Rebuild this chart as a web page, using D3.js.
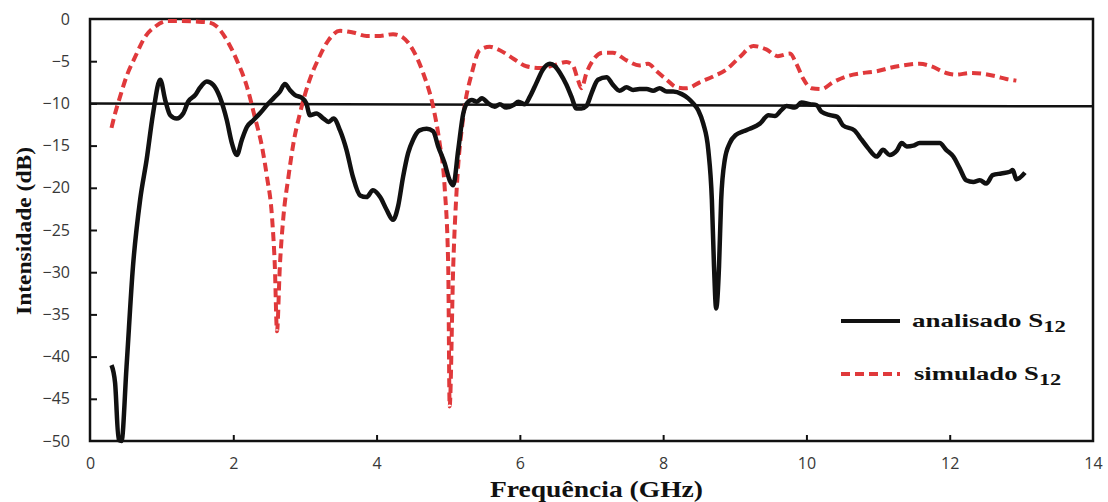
<!DOCTYPE html>
<html lang="en">
<head>
<meta charset="UTF-8">
<script src="https://d3js.org/d3.v7.min.js"></script>
<title>S12</title>
<style>
  body { margin: 0; background: #fff; }
</style>
</head>
<body>
<div id="chart"></div>
<script>
// frequency (GHz) / intensity (dB)
const measFreq = [0.30,0.35,0.40,0.44,0.51,0.60,0.70,0.79,0.88,0.98,1.05,1.12,1.21,1.30,1.37,1.47,1.53,1.63,1.72,1.81,1.91,1.98,2.05,2.12,2.19,2.28,2.37,2.47,2.56,2.65,2.72,2.79,2.86,2.95,3.02,3.07,3.16,3.26,3.33,3.40,3.49,3.58,3.67,3.77,3.86,3.95,4.05,4.14,4.23,4.30,4.37,4.44,4.51,4.60,4.70,4.79,4.86,4.95,5.02,5.07,5.14,5.21,5.26,5.33,5.40,5.47,5.56,5.65,5.72,5.81,5.91,5.98,6.07,6.14,6.23,6.32,6.42,6.49,6.56,6.65,6.72,6.79,6.86,6.93,7.00,7.09,7.21,7.30,7.39,7.49,7.58,7.67,7.77,7.86,7.95,8.05,8.14,8.26,8.35,8.42,8.49,8.56,8.63,8.68,8.71,8.74,8.78,8.81,8.86,8.93,9.02,9.12,9.21,9.35,9.47,9.56,9.65,9.72,9.84,9.93,10.05,10.14,10.21,10.33,10.43,10.51,10.67,10.77,10.86,10.98,11.07,11.16,11.26,11.33,11.40,11.49,11.58,11.67,11.77,11.86,11.95,12.05,12.14,12.23,12.33,12.42,12.51,12.60,12.72,12.84,12.88,12.93,13.05];
const measDb = [-41.0,-43.1,-49.9,-50.0,-41.2,-29.3,-21.4,-16.7,-11.2,-7.2,-9.6,-11.4,-11.8,-11.2,-9.8,-9.0,-8.2,-7.4,-7.8,-9.2,-12.0,-14.7,-16.1,-14.3,-12.8,-12.0,-11.2,-10.2,-9.4,-8.6,-7.7,-8.4,-9.0,-9.3,-10.0,-11.4,-11.2,-11.8,-12.2,-11.8,-13.2,-15.5,-18.7,-20.9,-21.1,-20.3,-21.1,-22.6,-23.8,-22.2,-18.7,-15.9,-14.3,-13.2,-13.0,-13.3,-15.1,-17.1,-19.1,-19.7,-15.5,-11.2,-10.0,-9.6,-9.8,-9.4,-10.0,-10.4,-10.1,-10.5,-10.2,-9.8,-10.1,-9.2,-7.6,-6.0,-5.3,-5.6,-6.4,-7.8,-9.2,-10.6,-10.6,-10.3,-8.8,-7.2,-6.9,-7.8,-8.5,-8.1,-8.4,-8.3,-8.3,-8.5,-8.2,-8.6,-8.6,-8.9,-9.4,-10.0,-10.8,-12.4,-15.5,-21.4,-29.3,-34.3,-29.3,-21.4,-16.7,-14.7,-13.7,-13.3,-13.0,-12.4,-11.4,-11.5,-10.8,-10.3,-10.5,-9.9,-10.1,-10.2,-11.0,-11.4,-11.6,-12.6,-13.2,-14.3,-15.3,-16.3,-15.5,-16.1,-15.6,-14.7,-15.1,-15.0,-14.7,-14.7,-14.7,-14.7,-15.5,-16.3,-17.7,-19.1,-19.3,-19.1,-19.5,-18.5,-18.3,-18.1,-17.9,-19.0,-18.2];

const simFreq = [0.30,0.35,0.42,0.51,0.63,0.77,0.91,1.07,1.26,1.47,1.65,1.77,1.91,2.05,2.19,2.30,2.40,2.47,2.54,2.58,2.61,2.65,2.70,2.77,2.84,2.93,3.05,3.19,3.33,3.49,3.67,3.86,4.05,4.23,4.37,4.51,4.65,4.79,4.88,4.95,5.00,5.02,5.07,5.12,5.21,5.33,5.44,5.58,5.72,5.91,6.09,6.28,6.47,6.65,6.74,6.81,6.86,6.93,7.02,7.16,7.30,7.49,7.67,7.79,7.91,8.05,8.19,8.33,8.51,8.70,8.88,9.07,9.26,9.44,9.60,9.77,9.86,9.95,10.07,10.21,10.37,10.56,10.79,10.98,11.16,11.35,11.58,11.74,11.95,12.09,12.28,12.47,12.65,12.79,12.93];
const simDb = [-12.9,-11.2,-9.2,-6.8,-4.5,-2.1,-0.9,-0.25,-0.25,-0.3,-0.4,-0.9,-2.5,-4.9,-8.0,-11.6,-15.1,-18.7,-23.4,-29.3,-37.0,-29.3,-23.4,-18.7,-14.7,-11.2,-7.6,-4.7,-2.5,-1.4,-1.6,-2.0,-2.0,-1.8,-2.2,-3.7,-6.4,-10.4,-14.7,-19.9,-29.3,-45.9,-29.3,-19.9,-11.6,-6.4,-3.7,-3.3,-3.7,-4.7,-5.6,-5.8,-5.5,-5.1,-5.5,-7.2,-8.2,-6.4,-4.9,-4.0,-4.0,-4.9,-5.5,-5.3,-6.2,-7.2,-8.1,-8.2,-7.5,-6.8,-6.0,-4.5,-3.2,-3.6,-4.4,-4.1,-5.3,-7.0,-8.2,-8.3,-7.5,-6.8,-6.4,-6.2,-5.8,-5.5,-5.3,-5.6,-6.4,-6.6,-6.4,-6.5,-6.8,-7.1,-7.3];

// -10 dB reference line (ends)
const refFreq = [0, 14];
const refDb = [-10, -10.35];

const xTicks = [0, 2, 4, 6, 8, 10, 12, 14];
const yTicks = [0, -5, -10, -15, -20, -25, -30, -35, -40, -45, -50];
const legendNames = ["analisado", "simulado"];

const W = 1108, H = 502;
const svg = d3.select("#chart").append("svg")
  .attr("width", W).attr("height", H);

const x = d3.scaleLinear().domain([0, 14]).range([90, 1093]);
const y = d3.scaleLinear().domain([-50, 0]).range([441, 19]);

// y axis (ticks pointing inward)
const yAxis = svg.append("g").attr("transform", "translate(90,0)")
  .call(d3.axisLeft(y).tickValues(yTicks).tickSize(-7).tickPadding(20).tickFormat(d3.format("d")));
// x axis
const xAxis = svg.append("g").attr("transform", "translate(0,441)")
  .call(d3.axisBottom(x).tickValues(xTicks).tickSize(-6).tickPadding(17));

[xAxis, yAxis].forEach(function (a) {
  a.select(".domain").remove();
  a.selectAll(".tick line").attr("stroke", "#111").attr("stroke-width", 2);
  a.selectAll(".tick text")
    .attr("fill", "#383838")
    .style("font-family", "'Open Sans', sans-serif")
    .style("font-size", "16px");
});
xAxis.selectAll(".tick").filter(function (d) { return d === 0 || d === 14; }).select("line").remove();
yAxis.selectAll(".tick").filter(function (d) { return d === 0 || d === -50; }).select("line").remove();

// frame
svg.append("rect")
  .attr("x", x(0)).attr("y", y(0))
  .attr("width", x(14) - x(0)).attr("height", y(-50) - y(0))
  .attr("fill", "none").attr("stroke", "#111").attr("stroke-width", 2.5);

const line = d3.line()
  .x(function (d) { return x(d[0]); })
  .y(function (d) { return y(d[1]); });

// reference line
svg.append("path")
  .datum(d3.zip(refFreq, refDb))
  .attr("d", line)
  .attr("fill", "none").attr("stroke", "#111").attr("stroke-width", 2.5);

const smooth = d3.line()
  .x(function (d) { return x(d[0]); })
  .y(function (d) { return y(d[1]); })
  .curve(d3.curveMonotoneX);

svg.append("path")
  .datum(d3.zip(simFreq, simDb))
  .attr("d", smooth)
  .attr("fill", "none").attr("stroke", "#e0393b")
  .attr("stroke-width", 4).attr("stroke-dasharray", "9,5");

svg.append("path")
  .datum(d3.zip(measFreq, measDb))
  .attr("d", smooth)
  .attr("fill", "none").attr("stroke", "#111")
  .attr("stroke-width", 4.5).attr("stroke-linejoin", "round");

// legend (text is drawn wide, as in the original)
const legend = svg.append("g");
const legendY = [321, 374];
legendNames.forEach(function (name, i) {
  legend.append("line")
    .attr("x1", 841).attr("x2", 900)
    .attr("y1", legendY[i]).attr("y2", legendY[i])
    .attr("stroke", i === 0 ? "#111" : "#e0393b")
    .attr("stroke-width", 4)
    .attr("stroke-dasharray", i === 0 ? null : "9,5");
  const t = legend.append("text")
    .attr("transform", "translate(" + (i === 0 ? 912 : 914) + "," + (legendY[i] + 6) + ") scale(" + (i === 0 ? 1.42 : 1.40) + ",1)")
    .style("font-family", "'Liberation Serif', serif")
    .style("font-weight", "bold").style("font-size", "19px")
    .attr("fill", "#111");
  t.append("tspan").text(name + " S");
  t.append("tspan").attr("dy", 5).style("font-size", "16px").text("12");
});

// axis titles
svg.append("text")
  .attr("x", 490).attr("y", 497)
  .attr("textLength", 213).attr("lengthAdjust", "spacingAndGlyphs")
  .style("font-family", "'Liberation Serif', serif")
  .style("font-weight", "bold").style("font-size", "24px")
  .attr("fill", "#111")
  .text("Frequência (GHz)");

svg.append("text")
  .attr("transform", "translate(31,315) rotate(-90)")
  .attr("textLength", 168).attr("lengthAdjust", "spacingAndGlyphs")
  .style("font-family", "'Liberation Serif', serif")
  .style("font-weight", "bold").style("font-size", "22px")
  .attr("fill", "#111")
  .text("Intensidade (dB)");
</script>
</body>
</html>
